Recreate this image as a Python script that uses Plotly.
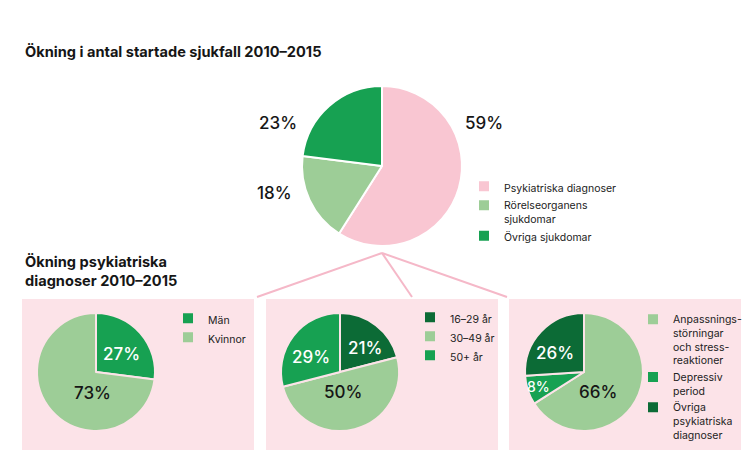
import plotly.graph_objects as go

# top pie: increase in started sick leave cases 2010-2015
top_labels = ["Psykiatriska diagnoser", "Rörelseorganens<br>sjukdomar", "Övriga sjukdomar"]
top_values = [59, 18, 23]

# bottom pies: increase in psychiatric diagnoses 2010-2015
sex_labels = ["Män", "Kvinnor"]
sex_values = [27, 73]

age_labels = ["16–29 år", "30–49 år", "50+ år"]
age_values = [21, 50, 29]

diag_labels = ["Anpassnings-<br>störningar<br>och stress-<br>reaktioner", "Depressiv<br>period",
               "Övriga<br>psykiatriska<br>diagnoser"]
diag_values = [66, 8, 26]

PINK = "#F9C6D2"
PANEL = "#FCE3E8"
LINE = "#F5B8C8"
GREEN = "#17A152"
LIGHT = "#9DCD97"
DARK = "#0C6B36"
INK = "#161616"
FONT = "Inter"

W, H = 750, 460


def px_x(x):
    return x / W


def px_y(y):
    return 1 - y / H


def dom(cx, cy, r):
    return dict(x=[px_x(cx - r), px_x(cx + r)], y=[px_y(cy + r), px_y(cy - r)])


fig = go.Figure()

fig.add_trace(go.Pie(
    labels=top_labels, values=top_values, sort=False, direction="clockwise", rotation=0,
    marker=dict(colors=[PINK, LIGHT, GREEN], line=dict(color="white", width=2)),
    textinfo="none", hoverinfo="label+percent", domain=dom(382, 166, 80), legend="legend",
))


def small_pie(labels, values, colors, cx, legend):
    fig.add_trace(go.Pie(
        labels=labels, values=values, sort=False, direction="clockwise", rotation=0,
        marker=dict(colors=colors, line=dict(color=PANEL, width=2)),
        textinfo="none", hoverinfo="label+percent", domain=dom(cx, 372, 59), legend=legend,
    ))


small_pie(sex_labels, sex_values, [GREEN, LIGHT], 96, "legend2")
small_pie(age_labels, age_values, [DARK, LIGHT, GREEN], 340, "legend3")
small_pie(diag_labels, diag_values, [LIGHT, GREEN, DARK], 584, "legend4")

shapes = []
for x0, x1 in [(22, 254), (266, 498), (509, 741)]:
    shapes.append(dict(type="rect", xref="paper", yref="paper", layer="below",
                       x0=px_x(x0), x1=px_x(x1), y0=px_y(450), y1=px_y(299),
                       fillcolor=PANEL, line=dict(width=0)))
for xe in [257, 412, 507]:
    shapes.append(dict(type="line", xref="paper", yref="paper",
                       x0=px_x(382), y0=px_y(253), x1=px_x(xe), y1=px_y(297),
                       line=dict(color=LINE, width=2)))

annotations = [
    dict(text="<b>Ökning i antal startade sjukfall 2010–2015</b>", x=px_x(23), y=px_y(52),
         xanchor="left", yanchor="middle", font=dict(size=14.6)),
    dict(text="<b>Ökning psykiatriska<br>diagnoser 2010–2015</b>", x=px_x(23), y=px_y(271),
         xanchor="left", yanchor="middle", align="left", font=dict(size=14.6)),
]

# percentage labels, positioned by hand like the original
label_specs = [
    (top_values, [(484, 123), (274, 193), (278, 123)], [INK, INK, INK], [17, 17, 17]),
    (sex_values, [(122, 354), (92, 393)], ["white", INK], [17, 17]),
    (age_values, [(365, 348), (343, 392), (311, 357)], ["white", INK, "white"], [17, 17, 17]),
    (diag_values, [(598, 392), (538, 386), (555, 353)], [INK, "white", "white"], [17, 14, 17]),
]
for values, pos, cols, sizes in label_specs:
    for v, (x, y), c, s in zip(values, pos, cols, sizes):
        annotations.append(dict(text=f"{v}%", x=px_x(x), y=px_y(y), xanchor="center",
                                yanchor="middle", font=dict(size=s, color=c, weight=500)))
for a in annotations:
    a.update(xref="paper", yref="paper", showarrow=False)

leg = dict(bgcolor="rgba(0,0,0,0)", xanchor="left", yanchor="top", valign="top",
           font=dict(family=FONT, size=10.5, color="#222"), itemclick=False)

fig.update_layout(
    width=W, height=H, margin=dict(l=0, r=0, t=0, b=0),
    paper_bgcolor="white", plot_bgcolor="white",
    font=dict(family=FONT, color=INK),
    shapes=shapes, annotations=annotations,
    legend=dict(leg, x=px_x(464), y=px_y(173)),
    legend2=dict(leg, x=px_x(168), y=px_y(305)),
    legend3=dict(leg, x=px_x(410), y=px_y(304)),
    legend4=dict(leg, x=px_x(633), y=px_y(306)),
)

fig.write_html("out.html", config={"displayModeBar": False},
               post_script="document.body.style.margin='0';")
